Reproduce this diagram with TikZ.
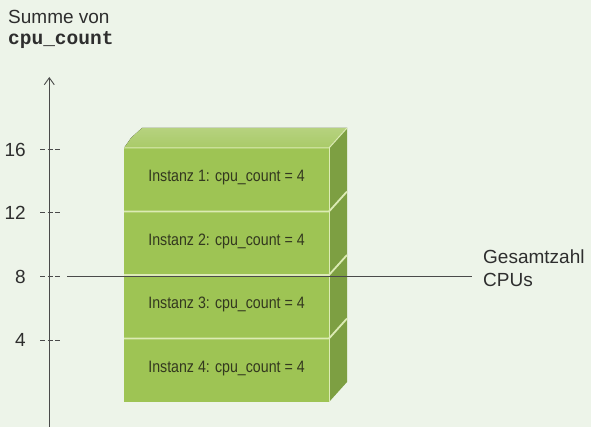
\documentclass[tikz,border=0pt]{standalone}
\usepackage{fontspec}
\setmainfont{Liberation Sans}
\setmonofont{Liberation Mono}
\newfontfamily\narrowfont[FakeStretch=0.86]{Liberation Sans}
\usetikzlibrary{arrows.meta}
\definecolor{bgcol}{HTML}{EDF4E9}
\definecolor{axiscol}{HTML}{4A4A4A}
\definecolor{frontcol}{HTML}{9EC454}
\definecolor{sidecol}{HTML}{84A846}
\definecolor{topcol}{HTML}{A9CA68}
\definecolor{sepcol}{HTML}{DCEBB4}
\definecolor{labelcol}{HTML}{2E2E2E}
\definecolor{boxtextcol}{HTML}{33381F}
\tikzset{
  axisline/.style={draw=axiscol, line width=0.9pt},
  tickmark/.style={draw=axiscol, line width=1pt, dash pattern=on 5pt off 2.5pt},
  ticklabel/.style={anchor=east, inner sep=0pt, text=labelcol, font=\fontsize{19}{22}\selectfont},
  plainlabel/.style={anchor=base west, inner sep=0pt, text=labelcol, font=\fontsize{19}{22}\selectfont},
  frontface/.style={fill=frontcol},
  sideface/.style={fill=sidecol},
  topface/.style={top color=topcol!85!white, bottom color=topcol},
  separator/.style={draw=sepcol, line width=1.8pt},
  rowtext/.style={inner sep=0pt, text=boxtextcol, font=\narrowfont\fontsize{16.5}{18}\selectfont},
}
\begin{document}
\begin{tikzpicture}[x=1pt, y=-1pt]
  % canvas
  \fill[bgcol] (0,0) rectangle (591,427);
  \useasboundingbox (0,0) rectangle (591,427);

  % axis title
  \node[plainlabel] (title1) at (8,24) {Summe von};
  \node[plainlabel, font=\ttfamily\bfseries\fontsize{19.5}{22}\selectfont] (title2) at (8,45) {cpu\_count};

  % vertical axis
  \coordinate (axbot) at (49.3,427);
  \coordinate (axtop) at (49.3,77);
  \draw[axisline, -{Straight Barb[length=7pt,width=10pt]}] (axbot) -- (axtop);

  % ticks and their labels
  \foreach \v/\y in {16/150, 12/213, 8/276.5, 4/340}{
    \coordinate (tl\v) at (40,\y);
    \coordinate (tr\v) at (61,\y);
    \draw[tickmark] (tl\v) -- (tr\v);
    \node[ticklabel] (lab\v) at (26,\y) {\v};
  }

  % stacked block: top face
  \fill[topface] (124,148) -- (131,138) -- (142,128) -- (347,128) -- (329,148) -- cycle;
  % rows: front and side faces
  \foreach \i/\t/\b in {1/148/211.5, 2/211.5/275, 3/275/338.5, 4/338.5/402}{
    \fill[frontface] (124,\t) rectangle (329,\b);
    \fill[sideface] (329,\t) -- (347,\t-20) -- (347,\b-20) -- (329,\b) -- cycle;
    \node[rowtext] (row\i) at (226.5,{(\t+\b)/2-2}) {Instanz \i: cpu\_count = 4};
  }
  % subtle shading on the side of the block
  \fill[black, opacity=0.05] (329,148) -- (347,128) -- (347,382) -- (329,402) -- cycle;
  % light seams between the rows
  \foreach \s in {211.5, 275, 338.5}{
    \draw[separator] (124,\s) -- (329,\s) -- (347,\s-20);
  }
  \draw[separator, line width=1pt] (124,148) -- (329,148) -- (347,128);
  \draw[sepcol, line width=0.8pt] (329,148) -- (329,402);

  % total line and its label
  \node[plainlabel] (tot1) at (483,264) {Gesamtzahl};
  \node[plainlabel] (tot2) at (483,287) {CPUs};
  \coordinate (totstart) at (67,276);
  \coordinate (totend) at (472,276);
  \draw[axiscol, line width=0.8pt] (totstart) -- (totend);
\end{tikzpicture}
\end{document}
